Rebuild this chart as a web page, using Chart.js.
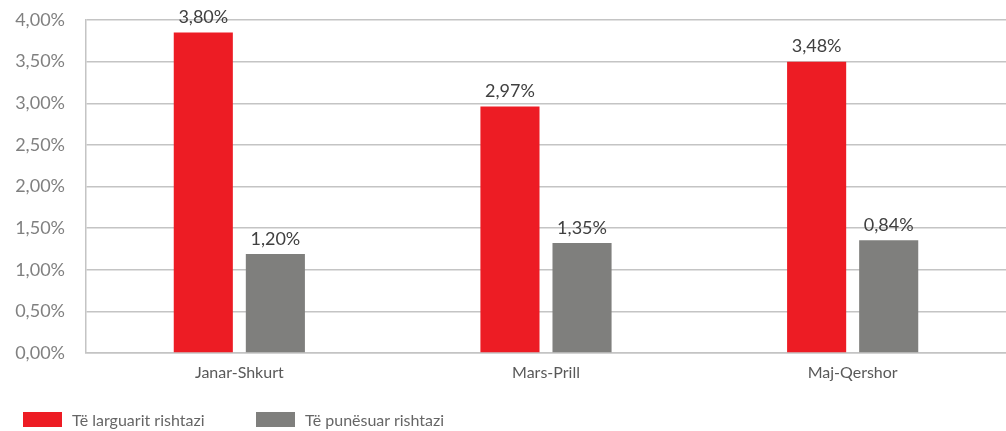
<!DOCTYPE html>
<html>
<head>
<meta charset="utf-8">
<script src="https://cdn.jsdelivr.net/npm/chart.js@4.4.1/dist/chart.umd.min.js"></script>
<style>
    html, body { margin: 0; padding: 0; background: #fff; }
    #wrap { position: relative; width: 1006px; height: 431px; }
    #legend { position: absolute; left: 23px; top: 410px; display: flex; font-family: Lato, sans-serif; font-size: 16px; color: #666; }
    .item { display: flex; align-items: center; width: 233px; }
    .box { width: 39px; height: 15px; margin-right: 10px; }
</style>
</head>
<body>
<div id="wrap">
    <canvas id="chart" width="1006" height="431"></canvas>
    <div id="legend"></div>
</div>
<script>
// Periudhat
const categories = ['Janar-Shkurt', 'Mars-Prill', 'Maj-Qershor'];
const seriesNames = ['Të larguarit rishtazi', 'Të punësuar rishtazi'];

// Lartesia e shtyllave (lexuar nga grafiku)
const leftValues = [3.85, 2.96, 3.50];
const hiredValues = [1.19, 1.32, 1.355];

// Etiketat mbi shtylla
const leftLabels = ['3,80%', '2,97%', '3,48%'];
const hiredLabels = ['1,20%', '1,35%', '0,84%'];

const colors = ['#ed1c24', '#7f7f7d'];

// Etiketat e vlerave mbi shtylla
const valueLabels = {
    id: 'valueLabels',
    afterDatasetsDraw(chart) {
        const ctx = chart.ctx;
        const texts = [leftLabels, hiredLabels];
        ctx.save();
        ctx.font = '18px Lato, sans-serif';
        ctx.fillStyle = '#404040';
        ctx.textAlign = 'center';
        ctx.textBaseline = 'bottom';
        chart.data.datasets.forEach((ds, i) => {
            chart.getDatasetMeta(i).data.forEach((bar, j) => {
                ctx.fillText(texts[i][j], bar.x, bar.y - 6);
            });
        });
        ctx.restore();
    }
};

new Chart(document.getElementById('chart'), {
    type: 'bar',
    data: {
        labels: categories,
        datasets: [
            { label: seriesNames[0], data: leftValues, backgroundColor: colors[0] },
            { label: seriesNames[1], data: hiredValues, backgroundColor: colors[1] }
        ]
    },
    options: {
        responsive: false,
        animation: false,
        layout: { padding: { top: 20, right: 0, left: 0, bottom: 48 } },
        datasets: {
            bar: { categoryPercentage: 0.47, barPercentage: 0.82 }
        },
        plugins: {
            legend: { display: false },
            tooltip: { enabled: false }
        },
        scales: {
            y: {
                min: 0,
                max: 4,
                ticks: {
                    stepSize: 0.5,
                    padding: 21,
                    color: '#808080',
                    font: { family: 'Lato, sans-serif', size: 18 },
                    callback: v => v.toFixed(2).replace('.', ',') + '%'
                },
                grid: { color: '#c4c4c4', lineWidth: 1.5, drawTicks: false },
                border: { display: true, color: '#c4c4c4', width: 1.5 },
                afterFit: s => { s.width = 86; s.paddingTop = 0; s.paddingBottom = 0; }
            },
            x: {
                ticks: {
                    color: '#595959',
                    padding: 10,
                    font: { family: 'Lato, sans-serif', size: 16 }
                },
                grid: { display: false, drawTicks: false },
                border: { display: true, color: '#c4c4c4', width: 1.5 },
                afterFit: s => { s.height = 30; }
            }
        }
    },
    plugins: [valueLabels]
});

// Legjenda
const legend = document.getElementById('legend');
seriesNames.forEach((name, i) => {
    const item = document.createElement('div');
    item.className = 'item';
    item.innerHTML = '<span class="box" style="background:' + colors[i] + '"></span><span>' + name + '</span>';
    legend.appendChild(item);
});
</script>
</body>
</html>
